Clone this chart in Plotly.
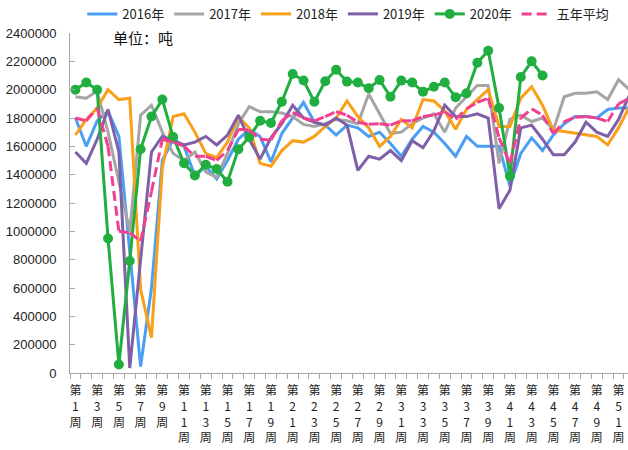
import plotly.graph_objects as go

weeks = list(range(1, 53))
tick_weeks = list(range(1, 53, 2))
tick_text = ["第<br>" + "<br>".join(str(w)) + "<br>周" for w in tick_weeks]
y_ticks = list(range(0, 2400001, 200000))

y2016 = [1800000, 1600000, 1780000, 1850000, 1670000, 870000, 45000, 600000, 1500000, 1650000,
         1600000, 1390000, 1460000, 1370000, 1500000, 1650000, 1720000, 1670000, 1490000, 1690000,
         1800000, 1910000, 1770000, 1750000, 1680000, 1750000, 1730000, 1670000, 1700000, 1620000,
         1530000, 1650000, 1740000, 1700000, 1620000, 1530000, 1670000, 1600000, 1600000, 1600000,
         1320000, 1550000, 1660000, 1570000, 1680000, 1760000, 1810000, 1810000, 1800000, 1860000,
         1870000, 1870000]
y2017 = [1950000, 1940000, 1990000, 1700000, 1350000, 1000000, 1820000, 1890000, 1700000, 1550000,
         1500000, 1560000, 1420000, 1380000, 1550000, 1760000, 1880000, 1845000, 1845000, 1835000,
         1810000, 1755000, 1740000, 1760000, 1790000, 1780000, 1760000, 1970000, 1830000, 1690000,
         1700000, 1760000, 1800000, 1830000, 1700000, 1870000, 1950000, 2030000, 2030000, 1480000,
         1790000, 1820000, 1775000, 1800000, 1715000, 1950000, 1975000, 1975000, 1985000, 1930000,
         2070000, 2000000]
y2018 = [1680000, 1790000, 1870000, 2000000, 1930000, 1940000, 590000, 250000, 1450000, 1810000,
         1830000, 1700000, 1550000, 1520000, 1630000, 1810000, 1730000, 1480000, 1460000, 1570000,
         1640000, 1630000, 1670000, 1740000, 1800000, 1920000, 1810000, 1730000, 1600000, 1670000,
         1790000, 1730000, 1930000, 1920000, 1850000, 1720000, 1860000, 1930000, 2000000, 1740000,
         1740000, 1940000, 2020000, 1890000, 1715000, 1705000, 1695000, 1685000, 1670000, 1610000,
         1730000, 1880000]
y2019 = [1560000, 1480000, 1650000, 1860000, 1560000, 35000, 800000, 1560000, 1670000, 1640000,
         1610000, 1630000, 1670000, 1610000, 1680000, 1820000, 1650000, 1510000, 1660000, 1760000,
         1890000, 1800000, 1770000, 1750000, 1800000, 1750000, 1430000, 1530000, 1510000, 1570000,
         1500000, 1640000, 1590000, 1710000, 1890000, 1810000, 1810000, 1830000, 1800000, 1160000,
         1290000, 1730000, 1750000, 1650000, 1540000, 1540000, 1630000, 1770000, 1700000, 1670000,
         1790000, 1960000]
y2020 = [2000000, 2050000, 2000000, 950000, 60000, 790000, 1580000, 1810000, 1930000, 1665000,
         1480000, 1395000, 1470000, 1440000, 1350000, 1580000, 1665000, 1780000, 1765000, 1915000,
         2110000, 2065000, 1915000, 2060000, 2140000, 2057000, 2050000, 2010000, 2068000, 1950000,
         2064000, 2050000, 1986000, 2021000, 2050000, 1946000, 1974000, 2190000, 2275000, 1870000,
         1390000, 2090000, 2200000, 2100000]
y_avg = [1800000, 1780000, 1870000, 1600000, 1000000, 990000, 930000, 1280000, 1650000, 1630000,
         1600000, 1530000, 1530000, 1500000, 1570000, 1720000, 1715000, 1650000, 1645000, 1780000,
         1840000, 1800000, 1780000, 1810000, 1845000, 1820000, 1770000, 1755000, 1760000, 1750000,
         1780000, 1780000, 1810000, 1820000, 1845000, 1790000, 1865000, 1910000, 1940000, 1660000,
         1480000, 1800000, 1865000, 1820000, 1690000, 1775000, 1805000, 1810000, 1800000, 1775000,
         1900000, 1940000]

names = ["2016年", "2017年", "2018年", "2019年", "2020年", "五年平均"]
colors = ["#4A9FF5", "#A5A5A5", "#F9A01B", "#7E5FA8", "#20AE40", "#F0408F"]

fig = go.Figure()
for nm, ys, col in zip(names[:4], [y2016, y2017, y2018, y2019], colors[:4]):
    fig.add_trace(go.Scatter(x=weeks[:len(ys)], y=ys, name=nm, mode="lines",
                             line=dict(color=col, width=3)))
fig.add_trace(go.Scatter(x=weeks[:len(y2020)], y=y2020, name=names[4], mode="lines+markers",
                         line=dict(color=colors[4], width=3),
                         marker=dict(color=colors[4], size=10)))

# five-year average: dash pattern restarts on every segment (as in the source chart)
ax, ay = [], []
for i in range(len(y_avg) - 1):
    ax += [weeks[i], weeks[i + 1], None]
    ay += [y_avg[i], y_avg[i + 1], None]
fig.add_trace(go.Scatter(x=ax, y=ay, name=names[5], mode="lines", connectgaps=False,
                         line=dict(color=colors[5], width=3, dash="10px,5px")))

fig.update_layout(
    width=628, height=450,
    margin=dict(l=70, r=0, t=33, b=77, autoexpand=False),
    paper_bgcolor="white", plot_bgcolor="white",
    showlegend=True,
    legend=dict(orientation="h", xref="container", yref="container",
                x=0.131, y=0.969, xanchor="left", yanchor="middle",
                font=dict(family="Noto Sans CJK SC", size=13, color="#222"),
                bgcolor="rgba(0,0,0,0)", traceorder="normal"),
    annotations=[dict(text="单位：吨", xref="paper", yref="paper", x=0.073, y=0.988,
                      xanchor="left", yanchor="middle", showarrow=False,
                      font=dict(family="Noto Sans CJK SC", size=15, color="#111"))],
)
fig.update_xaxes(range=[0.5, 51.87], tickmode="array", tickvals=tick_weeks, ticktext=tick_text,
                 automargin=False, ticklabeloverflow="allow",
                 ticks="outside", ticklen=5, tickcolor="rgba(0,0,0,0)", ticklabelstandoff=2,
                 tickfont=dict(family="Noto Sans CJK SC", size=12, color="#222"),
                 showline=True, linecolor="#A6A6A6", linewidth=1, showgrid=False, zeroline=False,
                 minor=dict(tickmode="linear", tick0=0.5, dtick=1, ticks="outside", ticklen=5,
                            tickcolor="#A6A6A6", showgrid=False))
fig.update_yaxes(range=[0, 2400000], tickmode="array", tickvals=y_ticks,
                 ticktext=[str(v) for v in y_ticks], automargin=False,
                 ticks="inside", ticklen=5, tickcolor="#A6A6A6", ticklabelstandoff=10,
                 tickfont=dict(family="Liberation Sans", size=13, color="#222"),
                 showline=True, linecolor="#A6A6A6", linewidth=1, showgrid=False, zeroline=False)

# remove the page's default 8px body margin so the figure fills the window exactly
fig.write_html("out.html", config={"displayModeBar": False},
               post_script="document.body.style.margin='0';")
